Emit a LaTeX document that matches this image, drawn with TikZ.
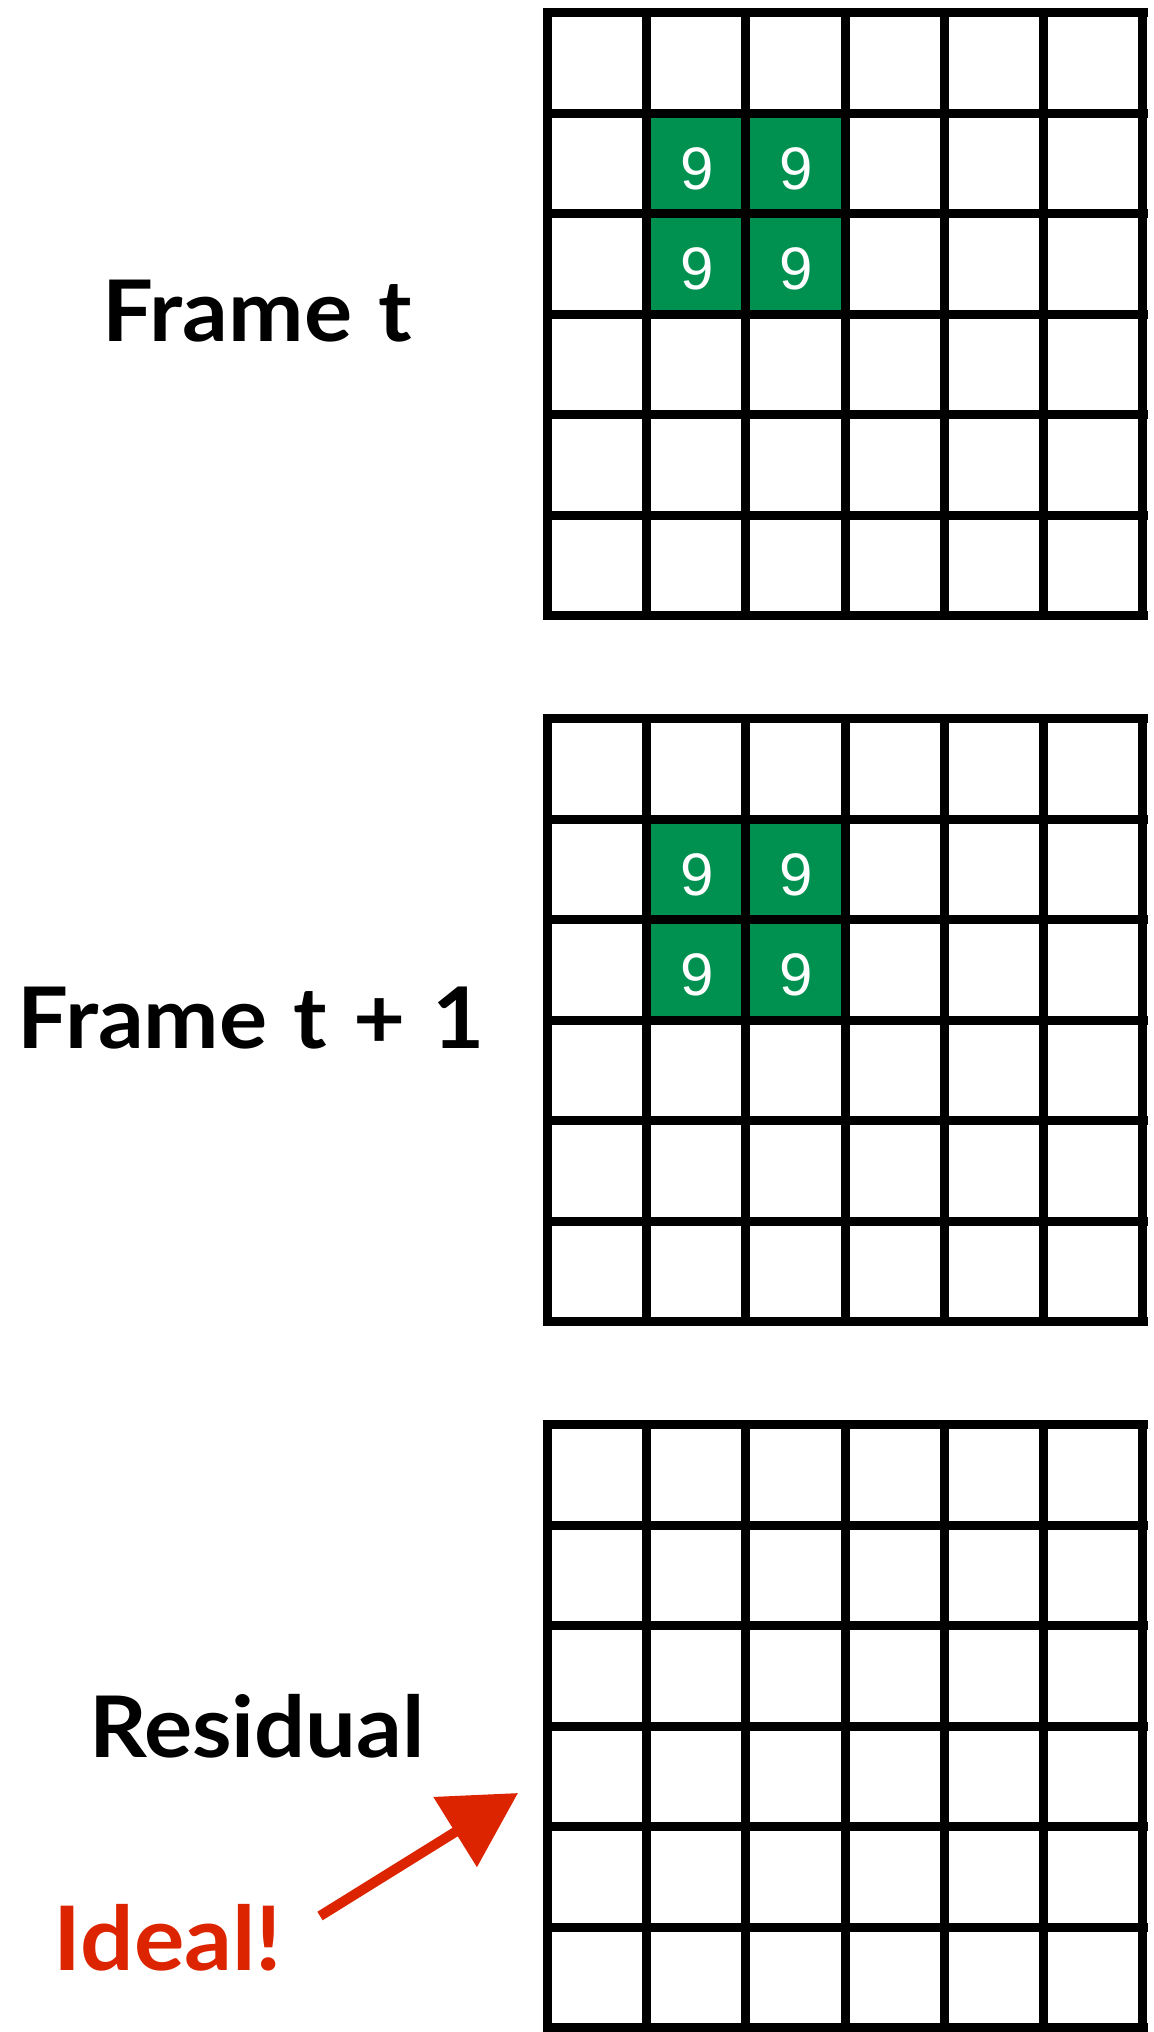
\documentclass[tikz,border=0pt]{standalone}
\usepackage{fontspec}
\usepackage{tikz}
\usetikzlibrary{arrows.meta, positioning, calc}
\setmainfont{Lato}
\newfontfamily\labelfont{Lato}[FakeStretch=1.06, WordSpace=1.2]
\newfontfamily\digitfont{Liberation Sans}
\definecolor{pixgreen}{RGB}{0, 145, 80}
\definecolor{notered}{RGB}{220, 36, 0}

\begin{document}
\begin{tikzpicture}[
    x=0.5pt, y=-0.5pt,
    cellline/.style={line width=4.5pt, line cap=rect},
    hotcell/.style={fill=pixgreen},
    pixval/.style={font=\digitfont\fontsize{30}{34}\selectfont, text=white, inner sep=0pt},
    framelabel/.style={font=\labelfont\fontsize{42.5}{48}\selectfont\bfseries, anchor=base, inner sep=0pt},
    handarrow/.style={-{Triangle[length=37pt, width=40pt]}, line width=5pt, draw=notered},
]
\useasboundingbox (0,0) rectangle (1154,2032);
\fill[white] (0,0) rectangle (1154,2032);

% Moving block, frame t
\fill[hotcell] (646.3,113.2) rectangle (845,313.7);
\node[pixval] (ta) at (696.7,168.5) {9};
\node[pixval] (tb) at (796.0,168.5) {9};
\node[pixval] (tc) at (696.7,269) {9};
\node[pixval] (td) at (796.0,269) {9};

% Moving block, frame t + 1
\fill[hotcell] (646.3,819.2) rectangle (845,1019.7);
\node[pixval] (ua) at (696.7,874.5) {9};
\node[pixval] (ub) at (796.0,874.5) {9};
\node[pixval] (uc) at (696.7,975) {9};
\node[pixval] (ud) at (796.0,975) {9};

% Pixel grids
\foreach \gy in {12.7, 718.7, 1424.5} {
  \foreach \k in {0,...,6} {
    \draw[cellline] ({547+99.33*\k}, \gy) -- ({547+99.33*\k}, {\gy+603});
    \draw[cellline] (547, {\gy+100.5*\k}) -- (1143, {\gy+100.5*\k});
  }
}

% Labels
\node[framelabel] (lblt) at (257, 341.7) {Frame t};
\node[framelabel] (lbltt) at (251, 1048.3) {Frame t + 1};
\node[framelabel] (lblres) at (257, 1757) {Residual};
\node[framelabel, font=\labelfont\fontsize{44.5}{50}\selectfont\bfseries, text=notered] (ideal) at (168, 1970.7) {Ideal!};

% Arrow
\coordinate (arrowtail) at (320, 1916);
\coordinate (arrowtip) at (518, 1793);
\draw[handarrow] (arrowtail) -- (arrowtip);

\end{tikzpicture}
\end{document}
